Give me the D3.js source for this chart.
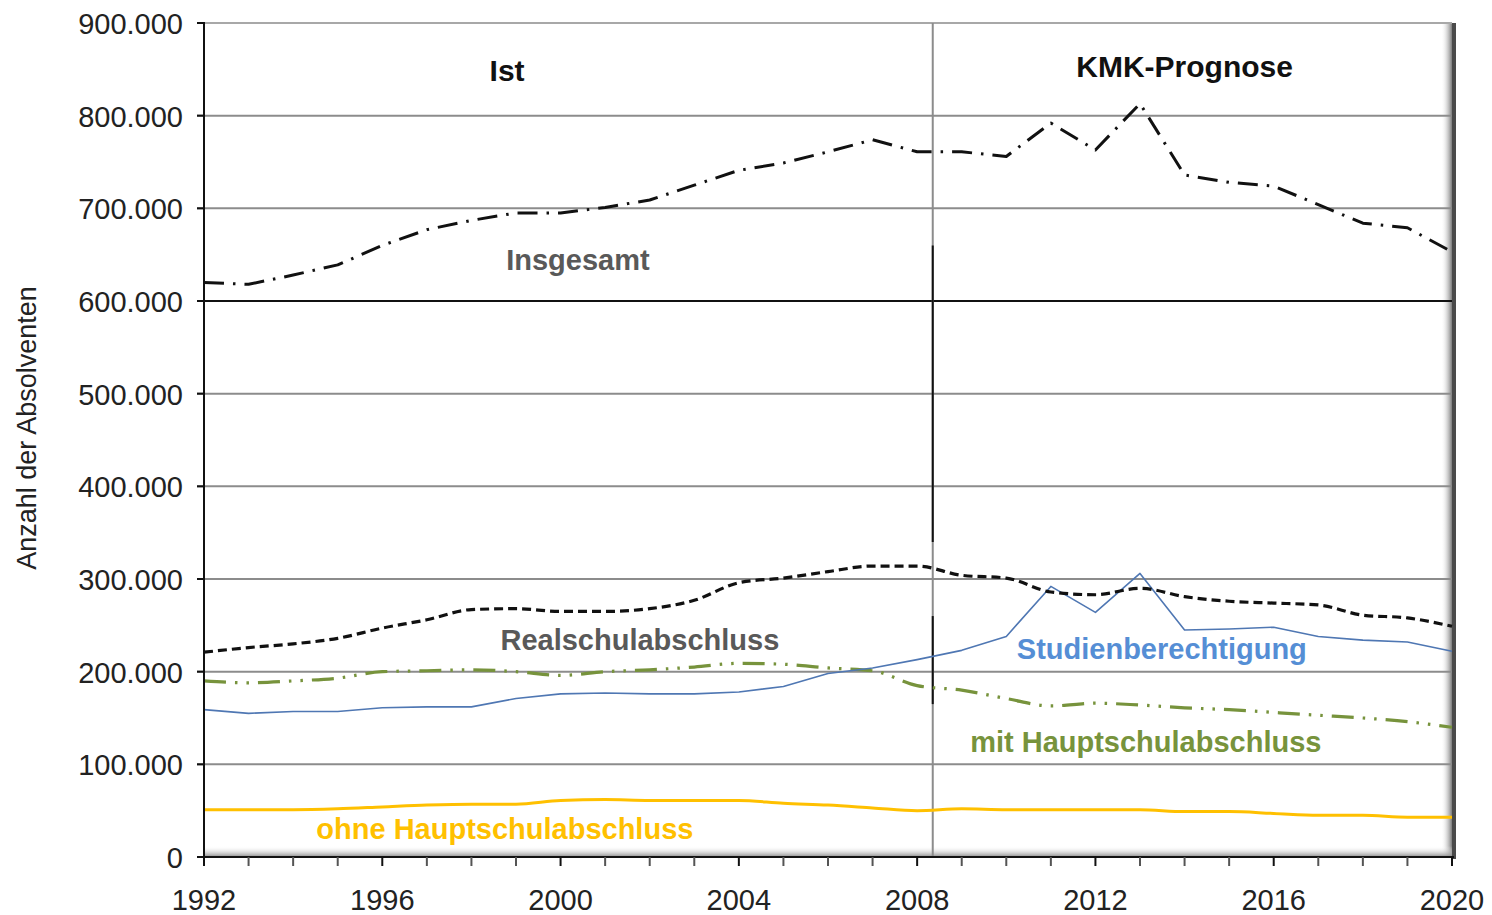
<!DOCTYPE html>
<html><head><meta charset="utf-8">
<script src="https://cdn.jsdelivr.net/npm/d3@7/dist/d3.min.js"></script>
<style>
body{margin:0;background:#fff}
svg{display:block}
text{font-family:"Liberation Sans",Arial,Helvetica,sans-serif}
</style>
</head><body>
<svg id="chart" width="1492" height="915"></svg>
<script>
// ---- data (values in persons) ----
const years = [1992,1993,1994,1995,1996,1997,1998,1999,2000,2001,2002,2003,2004,2005,2006,2007,2008,2009,2010,2011,2012,2013,2014,2015,2016,2017,2018,2019,2020];
const insgesamt = [620000,618000,628000,639000,660000,677000,687000,695000,695000,701000,709000,725000,741000,749000,761000,774000,761000,761000,756000,792000,763000,813000,736000,728000,724000,704000,684000,679000,653000];
const realschulabschluss = [221000,226000,230000,236000,247000,256000,267000,268000,265000,265000,268000,277000,296000,301000,308000,314000,314000,304000,301000,286000,283000,290000,281000,276000,274000,272000,261000,258000,249000];
const studienberechtigung = [159000,155000,157000,157000,161000,162000,162000,171000,176000,177000,176000,176000,178000,184000,198000,204000,213000,223000,238000,292000,264000,306000,245000,246000,248000,238000,234000,232000,222000];
const mitHauptschulabschluss = [190000,188000,190000,193000,200000,201000,202000,200000,196000,200000,202000,205000,209000,208000,204000,201000,185000,180000,171000,163000,166000,164000,161000,159000,156000,153000,150000,146000,140000];
const ohneHauptschulabschluss = [51000,51000,51000,52000,54000,56000,57000,57000,61000,62000,61000,61000,61000,58000,56000,53000,50000,52000,51000,51000,51000,51000,49000,49000,47000,45000,45000,43000,43000];
const yTicks = [0,100000,200000,300000,400000,500000,600000,700000,800000,900000];
const xTickLabels = [1992,1996,2000,2004,2008,2012,2016,2020];
const forecastStart = 2008.35;
const yAxisTitle = "Anzahl der Absolventen";
const periodLabels = ["Ist","KMK-Prognose"];

// ---- layout ----
const svg = d3.select("#chart");
const x = d3.scaleLinear().domain([1992,2020]).range([204,1452]);
const y = d3.scaleLinear().domain([0,900000]).range([857,23]);
const de = d3.formatLocale({decimal:",",thousands:".",grouping:[3],currency:["","€"]});
const fmt = de.format(",d");

const defs = svg.append("defs");
const gR = defs.append("linearGradient").attr("id","shR").attr("x1","0").attr("x2","1").attr("y1","0").attr("y2","0");
gR.append("stop").attr("offset","0").attr("stop-color","#fff").attr("stop-opacity",0);
gR.append("stop").attr("offset","1").attr("stop-color","#7a7a7a");
const gB = defs.append("linearGradient").attr("id","shB").attr("x1","0").attr("x2","0").attr("y1","0").attr("y2","1");
gB.append("stop").attr("offset","0").attr("stop-color","#fff").attr("stop-opacity",0);
gB.append("stop").attr("offset","1").attr("stop-color","#8a8a8a");

// frame shadows
svg.append("rect").attr("x",x(2020)-11).attr("y",y(900000)).attr("width",11).attr("height",y(0)-y(900000)).attr("fill","url(#shR)");
svg.append("rect").attr("x",x(1992)).attr("y",y(0)-11).attr("width",x(2020)-x(1992)).attr("height",11).attr("fill","url(#shB)");
svg.append("rect").attr("x",x(2020)).attr("y",y(900000)).attr("width",4).attr("height",y(0)-y(900000)+2).attr("fill","#4a4a4a");

// gridlines
svg.append("g").selectAll("line").data(yTicks.filter(d=>d>0)).join("line")
  .attr("x1",x(1992)-7).attr("x2",x(2020))
  .attr("y1",d=>y(d)).attr("y2",d=>y(d))
  .attr("stroke",d=>d===600000?"#111":(d===900000?"#a8a8a8":"#8c8c8c"))
  .attr("stroke-width",2);

// divider between Ist and Prognose
svg.append("line").attr("x1",x(forecastStart)).attr("x2",x(forecastStart))
  .attr("y1",y(900000)).attr("y2",y(0)).attr("stroke","#8c8c8c").attr("stroke-width",2);
svg.append("line").attr("x1",x(forecastStart)).attr("x2",x(forecastStart))
  .attr("y1",y(660000)).attr("y2",y(340000)).attr("stroke","#111").attr("stroke-width",2);
svg.append("line").attr("x1",x(forecastStart)).attr("x2",x(forecastStart))
  .attr("y1",y(260000)).attr("y2",y(165000)).attr("stroke","#111").attr("stroke-width",2);

// series
const series = [
  {vals:ohneHauptschulabschluss, color:"#FFC000", w:3, dash:null, curve:d3.curveMonotoneX},
  {vals:mitHauptschulabschluss, color:"#77933C", w:3.2, dash:"22,9,2.5,9,2.5,9", curve:d3.curveMonotoneX},
  {vals:studienberechtigung, color:"#4F77B3", w:1.6, dash:null, curve:d3.curveLinear},
  {vals:realschulabschluss, color:"#111", w:3.2, dash:"9,5", curve:d3.curveMonotoneX},
  {vals:insgesamt, color:"#111", w:3, dash:"20,9,2.5,9", curve:d3.curveLinear}
];
series.forEach(s=>{
  const line = d3.line().x((d,i)=>x(years[i])).y(d=>y(d)).curve(s.curve);
  svg.append("path").attr("d",line(s.vals)).attr("fill","none")
    .attr("stroke",s.color).attr("stroke-width",s.w)
    .attr("stroke-dasharray",s.dash).attr("stroke-linejoin","round");
});

// axes
svg.append("line").attr("x1",x(1992)).attr("x2",x(1992)).attr("y1",y(900000)-1).attr("y2",y(0)+1).attr("stroke","#111").attr("stroke-width",2);
svg.append("line").attr("x1",x(1992)-7).attr("x2",x(2020)+2).attr("y1",y(0)).attr("y2",y(0)).attr("stroke","#111").attr("stroke-width",2);
svg.append("g").selectAll("line").data([0,800000,700000,500000,400000,300000,200000,100000,900000]).join("line")
  .attr("x1",x(1992)-7).attr("x2",x(1992)).attr("y1",d=>y(d)).attr("y2",d=>y(d)).attr("stroke","#111").attr("stroke-width",2);
svg.append("g").selectAll("line").data(years).join("line")
  .attr("x1",d=>x(d)).attr("x2",d=>x(d)).attr("y1",y(0)).attr("y2",y(0)+9)
  .attr("stroke",d=>(d-1992)%4===0?"#111":"#555").attr("stroke-width",2);

// tick labels
svg.append("g").selectAll("text").data(yTicks).join("text")
  .attr("x",183).attr("y",d=>y(d)+11).attr("text-anchor","end")
  .attr("font-size",29).attr("fill","#222").text(d=>fmt(d));
svg.append("g").selectAll("text").data(xTickLabels).join("text")
  .attr("x",d=>x(d)).attr("y",910).attr("text-anchor","middle")
  .attr("font-size",29).attr("fill","#222").text(d=>d);

// axis title
svg.append("text").attr("transform","translate(36,428) rotate(-90)")
  .attr("text-anchor","middle").attr("font-size",27).attr("fill","#222").text(yAxisTitle);

// period labels
svg.append("text").attr("x",x(1998.8)).attr("y",81).attr("text-anchor","middle")
  .attr("font-size",30).attr("font-weight","bold").attr("fill","#111").text(periodLabels[0]);
svg.append("text").attr("x",x(2014.0)).attr("y",77).attr("text-anchor","middle")
  .attr("font-size",30).attr("font-weight","bold").attr("fill","#111").text(periodLabels[1]);

// series labels
const labels = [
  {t:"Insgesamt", cx:2000.39, by:270, c:"#595959"},
  {t:"Realschulabschluss", cx:2001.78, by:650, c:"#595959"},
  {t:"Studienberechtigung", cx:2013.49, by:659, c:"#558ED5"},
  {t:"mit Hauptschulabschluss", cx:2013.13, by:752, c:"#77933C"},
  {t:"ohne Hauptschulabschluss", cx:1998.75, by:839, c:"#FFC000"}
];
svg.append("g").selectAll("text").data(labels).join("text")
  .attr("x",d=>x(d.cx)).attr("y",d=>d.by).attr("text-anchor","middle")
  .attr("font-size",29).attr("font-weight","bold").attr("fill",d=>d.c).text(d=>d.t);
</script>
</body></html>
